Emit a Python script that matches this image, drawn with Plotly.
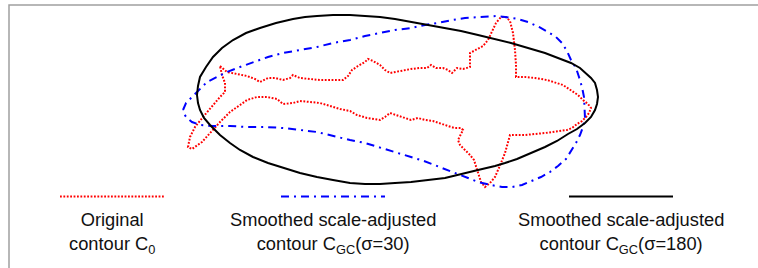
import plotly.graph_objects as go

# Original contour C0 (pixel-space coordinates)
orig_x = [220, 227, 237, 247, 255, 260, 268, 275, 283, 290, 293, 300, 310, 320, 330, 343, 348, 352, 358, 365,
          368, 373, 380, 385, 390, 400, 411, 420, 427, 431, 436, 443, 448, 452, 457, 463, 470, 470, 476, 483,
          488, 491, 496, 501, 506, 510, 513, 515, 516, 516, 525, 535, 547, 563, 571, 578, 583, 588, 591, 589,
          586, 582, 577, 572, 567, 555, 545, 535, 525, 510, 508, 505, 501, 498, 495, 490, 485, 481, 478, 476,
          474, 470, 465, 460, 458, 461, 463, 461, 455, 451, 445, 441, 433, 425, 418, 411, 405, 398, 390, 385,
          380, 367, 357, 350, 340, 330, 320, 310, 300, 293, 283, 277, 267, 257, 247, 240, 230, 220, 210, 202,
          192, 188, 190, 195, 203, 213, 220, 225, 225, 222, 220]
orig_y = [66, 72, 74, 76, 79, 82, 78, 78, 80, 78, 75, 78, 79, 80, 80, 80, 76, 70, 66, 62,
          59, 61, 65, 70, 73, 71, 69, 68, 68, 65, 68, 68, 70, 73, 68, 69, 67, 53, 50, 46,
          40, 33, 23, 17, 17, 21, 33, 50, 65, 77, 77, 78, 80, 85, 90, 95, 100, 104, 108, 113,
          117, 121, 124, 128, 130, 132, 133, 134, 135, 135, 143, 153, 163, 170, 177, 183, 187, 182, 173, 165,
          160, 155, 150, 145, 140, 134, 130, 128, 128, 127, 125, 123, 121, 120, 118, 120, 118, 116, 113, 117,
          120, 118, 115, 111, 109, 106, 103, 102, 101, 103, 104, 99, 97, 97, 100, 105, 112, 122, 133, 142,
          149, 147, 137, 127, 117, 105, 97, 92, 83, 75, 66]

# Smoothed scale-adjusted contour, sigma = 30
s30_x = [183, 186, 192, 200, 207, 217, 227, 240, 253, 268, 283, 300, 317, 333, 350, 365, 380, 395, 411, 425,
         438, 452, 465, 477, 488, 497, 505, 518, 528, 539, 548, 556, 562, 567, 571, 576, 579, 582, 584, 585,
         585, 583, 580, 576, 571, 566, 558, 550, 541, 532, 522, 512, 502, 491, 478, 468, 458, 448, 436, 424,
         411, 395, 378, 365, 350, 333, 317, 300, 283, 265, 247, 230, 213, 200, 192, 187, 184, 183]
s30_y = [110, 103, 97, 89, 82, 77, 72, 67, 62, 57, 53, 50, 47, 43, 40, 36, 33, 30, 28, 25,
         23, 20, 18, 17, 16, 16, 17, 19, 22, 27, 32, 37, 43, 51, 60, 68, 77, 87, 97, 110,
         118, 127, 135, 143, 151, 159, 166, 172, 177, 181, 185, 187, 187, 185, 182, 178, 174, 170, 165, 161,
         157, 152, 147, 143, 140, 136, 132, 130, 128, 127, 127, 126, 126, 125, 122, 118, 114, 110]

# Smoothed scale-adjusted contour, sigma = 180
s180_x = [197, 198, 200, 206, 213, 222, 233, 246, 260, 276, 293, 305, 317, 333, 350, 365, 380, 395, 411, 428,
          445, 461, 478, 495, 511, 528, 545, 558, 571, 580, 586, 591, 595, 597, 598, 597, 595, 591, 585, 577,
          568, 557, 545, 531, 517, 505, 495, 478, 461, 445, 428, 411, 395, 380, 365, 350, 333, 317, 300, 283,
          268, 253, 240, 230, 220, 210, 204, 200, 198, 197]
s180_y = [95, 86, 77, 67, 57, 48, 40, 33, 28, 23, 19, 17, 16, 15, 15, 16, 17, 19, 22, 25,
          28, 31, 35, 39, 43, 48, 53, 58, 63, 68, 73, 78, 83, 90, 97, 104, 110, 117, 123, 129,
          134, 141, 147, 153, 159, 163, 166, 170, 174, 178, 180, 182, 183, 184, 184, 183, 180, 177, 173, 168,
          163, 157, 150, 143, 135, 125, 118, 110, 103, 95]

labels = ["Original<br>contour C<sub>0</sub>",
          "Smoothed scale-adjusted<br>contour C<sub>GC</sub>(σ=30)",
          "Smoothed scale-adjusted<br>contour C<sub>GC</sub>(σ=180)"]
legend_centers = [112, 333, 621]

RED = "#ff0000"
BLUE = "#0000ff"
BLACK = "#000000"
DOT = "1.8px,1.6px"
DASHDOT = "8px,5px,2px,5px"

fig = go.Figure()
fig.add_trace(go.Scatter(x=orig_x, y=orig_y, mode="lines",
                         line=dict(color=RED, width=2, dash=DOT), hoverinfo="skip"))
fig.add_trace(go.Scatter(x=s30_x, y=s30_y, mode="lines",
                         line=dict(color=BLUE, width=2, dash=DASHDOT), hoverinfo="skip"))
fig.add_trace(go.Scatter(x=s180_x, y=s180_y, mode="lines",
                         line=dict(color=BLACK, width=2), hoverinfo="skip"))

# legend samples and labels
styles = [dict(color=RED, width=2, dash=DOT),
          dict(color=BLUE, width=2, dash=DASHDOT),
          dict(color=BLACK, width=2)]
half_len = 52
for cx, st, lab in zip(legend_centers, styles, labels):
    fig.add_shape(type="line", x0=cx - half_len, x1=cx + half_len, y0=196.5, y1=196.5,
                  xref="x", yref="y", line=st)
    fig.add_annotation(x=cx, y=233, xref="x", yref="y", text=lab, showarrow=False,
                       xanchor="center", yanchor="middle", align="center",
                       font=dict(family="Liberation Sans, Arial, sans-serif", size=18.3, color="#111111"))

# outer frame
fig.add_shape(type="rect", x0=9, x1=790, y0=5, y1=300, xref="x", yref="y",
              line=dict(color="#a0a0a0", width=1.5), layer="below")

fig.update_layout(
    width=758, height=268,
    margin=dict(l=0, r=0, t=0, b=0),
    paper_bgcolor="white", plot_bgcolor="white",
    showlegend=False,
    xaxis=dict(range=[0, 758], visible=False, fixedrange=True),
    yaxis=dict(range=[268, 0], visible=False, fixedrange=True),
)

fig.write_html("out.html",
               config={"displayModeBar": False, "staticPlot": True},
               post_script="document.body.style.margin='0';document.body.style.overflow='hidden';")
